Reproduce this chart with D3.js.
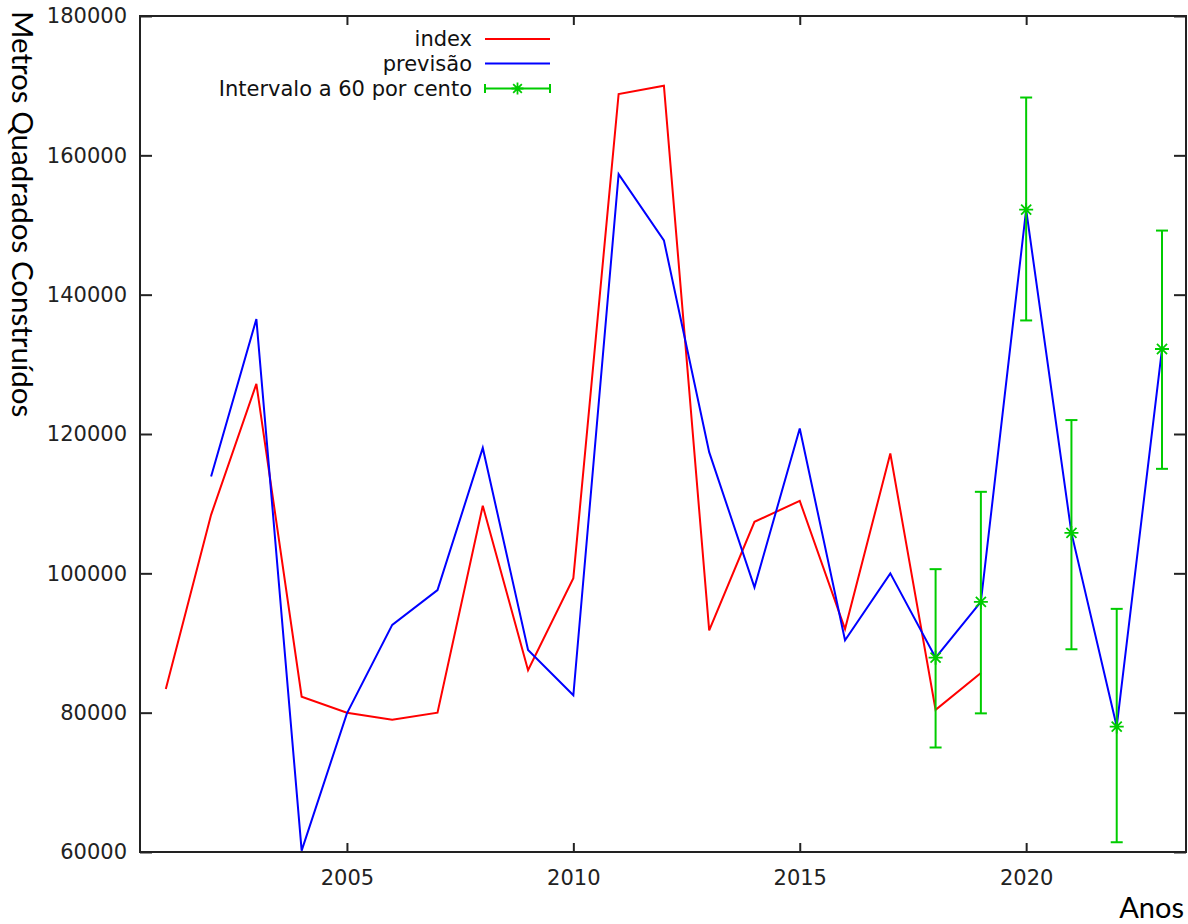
<!DOCTYPE html>
<html>
<head>
<meta charset="utf-8">
<script src="https://cdn.jsdelivr.net/npm/d3@7"></script>
<style>
  html, body { margin: 0; padding: 0; background: #fff; }
  svg { display: block; }
</style>
</head>
<body>
<svg id="chart" width="1188" height="924"></svg>
<script>
// ---- data ----
const indexYears = [2001,2002,2003,2004,2005,2006,2007,2008,2009,2010,2011,2012,2013,2014,2015,2016,2017,2018,2019];
const indexValues = [83400,108400,127200,82300,80000,79000,80000,109700,86100,99300,168800,170000,91800,107400,110400,92000,117200,80400,85700];

const forecastYears = [2002,2003,2004,2005,2006,2007,2008,2009,2010,2011,2012,2013,2014,2015,2016,2017,2018,2019,2020,2021,2022,2023];
const forecastValues = [113900,136500,60200,79900,92600,97600,118000,89000,82500,157300,147800,117400,98000,120800,90400,100000,87900,95900,152200,105800,78000,132200];

const intervalYears = [2018,2019,2020,2021,2022,2023];
const intervalCenter = [87900,95900,152200,105800,78000,132200];
const intervalLow = [75000,79900,136300,89100,61400,115000];
const intervalHigh = [100600,111700,168300,122000,94900,149200];

const xTicks = [2005,2010,2015,2020];
const yTicks = [60000,80000,100000,120000,140000,160000,180000];

const legendLabels = ["index", "previsão", "Intervalo a 60 por cento"];
const yLabel = "Metros Quadrados Construídos";
const xLabel = "Anos";

// ---- layout ----
const L = 140, R = 1186, T = 16, B = 852;
const svg = d3.select("#chart");
const x = d3.scaleLinear().domain([2000.43, 2023.53]).range([L, R]);
const y = d3.scaleLinear().domain([60000, 180000]).range([B, T]);

const RED = "#ff0000", BLUE = "#0000ff", GREEN = "#00cc00";
const tickFont = "DejaVu Sans, Verdana, sans-serif";
const labelFont = "Lato, 'Open Sans', sans-serif";
const tickSize = "21px";

svg.append("defs").append("clipPath").attr("id", "clip")
  .append("rect").attr("x", L).attr("y", T).attr("width", R - L).attr("height", B - T);

const plot = svg.append("g").attr("clip-path", "url(#clip)");

const line = d3.line().x(d => x(d[0])).y(d => y(d[1]));

plot.append("path")
  .datum(indexYears.map((yr, i) => [yr, indexValues[i]]))
  .attr("d", line).attr("fill", "none").attr("stroke", RED).attr("stroke-width", 2)
  .attr("stroke-linejoin", "miter");

plot.append("path")
  .datum(forecastYears.map((yr, i) => [yr, forecastValues[i]]))
  .attr("d", line).attr("fill", "none").attr("stroke", BLUE).attr("stroke-width", 2)
  .attr("stroke-linejoin", "miter");

// error bars
const eb = plot.append("g").attr("stroke", GREEN).attr("stroke-width", 2).attr("fill", "none");
const capW = 6;
function star(g, cx, cy, r) {
  const d = r * 0.72;
  g.append("path").attr("d",
    `M${cx - r},${cy}H${cx + r}M${cx},${cy - r}V${cy + r}` +
    `M${cx - d},${cy - d}L${cx + d},${cy + d}M${cx - d},${cy + d}L${cx + d},${cy - d}`)
    .attr("stroke", GREEN).attr("stroke-width", 1.8);
}
intervalYears.forEach((yr, i) => {
  const cx = x(yr);
  eb.append("line").attr("x1", cx).attr("x2", cx).attr("y1", y(intervalLow[i])).attr("y2", y(intervalHigh[i]));
  eb.append("line").attr("x1", cx - capW).attr("x2", cx + capW).attr("y1", y(intervalLow[i])).attr("y2", y(intervalLow[i]));
  eb.append("line").attr("x1", cx - capW).attr("x2", cx + capW).attr("y1", y(intervalHigh[i])).attr("y2", y(intervalHigh[i]));
  star(eb, cx, y(intervalCenter[i]), 7);
});

// ---- axes ----
const axisColor = "#222";
const bottomAxis = d3.axisBottom(x).tickValues(xTicks).tickFormat(d3.format("d")).tickSizeInner(-9).tickSizeOuter(0).tickPadding(18);
const topAxis = d3.axisTop(x).tickValues(xTicks).tickFormat("").tickSizeInner(-9).tickSizeOuter(0);
const leftAxis = d3.axisLeft(y).tickValues(yTicks).tickFormat(d3.format("d")).tickSizeInner(-12).tickSizeOuter(0).tickPadding(13);
const rightAxis = d3.axisRight(y).tickValues(yTicks).tickFormat("").tickSizeInner(-12).tickSizeOuter(0);

function styleAxis(g) {
  g.select(".domain").remove();
  g.selectAll(".tick line").attr("stroke", axisColor).attr("stroke-width", 2);
  g.selectAll(".tick text").attr("fill", "#222").style("font-family", tickFont).style("font-size", tickSize);
}
svg.append("g").attr("transform", `translate(0,${B})`).call(bottomAxis).call(styleAxis);
svg.append("g").attr("transform", `translate(0,${T})`).call(topAxis).call(styleAxis);
svg.append("g").attr("transform", `translate(${L},0)`).call(leftAxis).call(styleAxis);
svg.append("g").attr("transform", `translate(${R},0)`).call(rightAxis).call(styleAxis);

svg.append("rect").attr("x", L).attr("y", T).attr("width", R - L).attr("height", B - T)
  .attr("fill", "none").attr("stroke", axisColor).attr("stroke-width", 2);

// ---- legend ----
const legRows = [39, 63.5, 88.5];
const legTextX = 472, legX1 = 485, legX2 = 550;
legendLabels.forEach((lab, i) => {
  svg.append("text").attr("x", legTextX).attr("y", legRows[i]).attr("dy", "0.35em")
    .attr("text-anchor", "end").attr("fill", "#111")
    .style("font-family", tickFont).style("font-size", tickSize).text(lab);
});
svg.append("line").attr("x1", legX1).attr("x2", legX2).attr("y1", legRows[0]).attr("y2", legRows[0])
  .attr("stroke", RED).attr("stroke-width", 2);
svg.append("line").attr("x1", legX1).attr("x2", legX2).attr("y1", legRows[1]).attr("y2", legRows[1])
  .attr("stroke", BLUE).attr("stroke-width", 2);
const lg = svg.append("g").attr("stroke", GREEN).attr("stroke-width", 2);
lg.append("line").attr("x1", legX1).attr("x2", legX2).attr("y1", legRows[2]).attr("y2", legRows[2]);
lg.append("line").attr("x1", legX1).attr("x2", legX1).attr("y1", legRows[2] - 4.5).attr("y2", legRows[2] + 4.5);
lg.append("line").attr("x1", legX2).attr("x2", legX2).attr("y1", legRows[2] - 4.5).attr("y2", legRows[2] + 4.5);
star(lg, (legX1 + legX2) / 2, legRows[2], 6);

// ---- axis labels ----
svg.append("text")
  .attr("transform", `translate(12,11) rotate(90)`)
  .attr("text-anchor", "start").attr("fill", "#000")
  .style("font-family", labelFont).style("font-size", "29.5px").text(yLabel);

svg.append("text").attr("x", 1184).attr("y", 918).attr("text-anchor", "end").attr("fill", "#000")
  .style("font-family", labelFont).style("font-size", "29px").text(xLabel);
</script>
</body>
</html>
